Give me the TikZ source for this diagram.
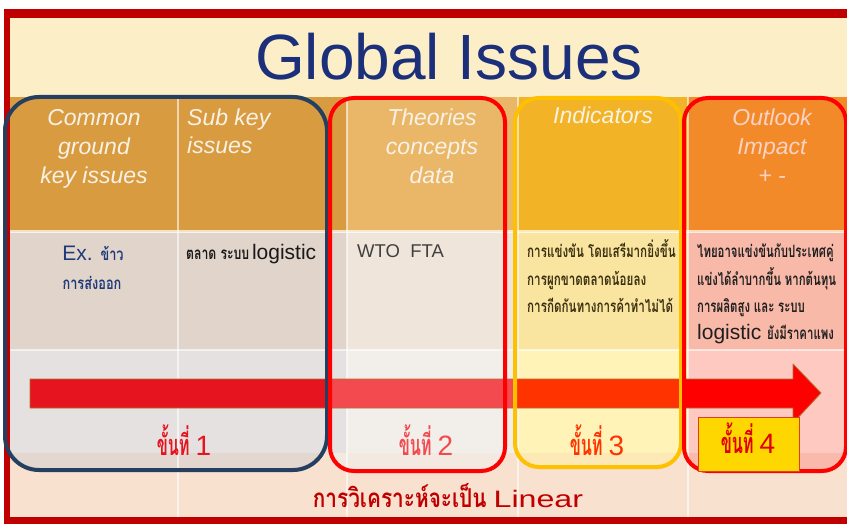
\documentclass[tikz,border=0pt]{standalone}
\usepackage{fontspec}
\usepackage{graphicx}
\setmainfont{Liberation Sans}
\newfontfamily\thai[Script=Thai]{Loma}
\newcommand\TC[2][0.72]{\scalebox{#1}[1]{\thai\bfseries #2}}
\definecolor{frame}{HTML}{C00000}
\definecolor{cream}{HTML}{FCEFC7}
\definecolor{hA}{HTML}{D99B40}
\definecolor{hB}{HTML}{E9B767}
\definecolor{hC}{HTML}{F2B426}
\definecolor{hD}{HTML}{F28A2A}
\definecolor{dA}{HTML}{E1D4CB}
\definecolor{dB}{HTML}{EFE5DA}
\definecolor{dC}{HTML}{FAE5A0}
\definecolor{dD}{HTML}{F8B9A8}
\definecolor{eA}{HTML}{E5E1E1}
\definecolor{eB}{HTML}{F2EFEA}
\definecolor{eC}{HTML}{FFF3B8}
\definecolor{eD}{HTML}{FDC9C1}
\definecolor{fA}{HTML}{E3D7CF}
\definecolor{fB}{HTML}{F4E9E0}
\definecolor{fC}{HTML}{FCE9B6}
\definecolor{fD}{HTML}{F9BAAB}
\definecolor{peach}{HTML}{F9E1D0}
\definecolor{navybox}{HTML}{243F60}
\definecolor{yelbox}{HTML}{FFC000}
\definecolor{titleblue}{HTML}{1C2F7A}
\definecolor{headw}{HTML}{F8F2E6}
\definecolor{headp}{HTML}{FCD2C4}
\definecolor{olive}{HTML}{3A3010}
\definecolor{exblue}{HTML}{1F3A7A}
\definecolor{arA}{HTML}{E5141E}
\definecolor{arB}{HTML}{F24A4E}
\definecolor{arC}{HTML}{FF3300}
\definecolor{arD}{HTML}{FF0000}
\definecolor{arEdge}{HTML}{B07030}
\definecolor{gold}{HTML}{FFD700}
\definecolor{goldEdge}{HTML}{E04020}
\definecolor{stepred}{HTML}{E00000}
\tikzset{
  headtxt/.style={text=headw,font=\fontsize{23}{23}\selectfont\itshape,inner sep=0pt},
  headpink/.style={headtxt,text=headp},
  celltxt/.style={inner sep=0pt,anchor=base west},
  steptxt/.style={inner sep=0pt,anchor=base},
  outline/.style={line width=4pt,rounded corners=24pt},
}
\newcommand\steplabel[1]{\scalebox{0.56}[1]{\fontsize{29}{29}\selectfont\thai\bfseries ขั้นที่}\hspace{6pt}{\fontsize{28}{28}\selectfont #1}}
\begin{document}
\begin{tikzpicture}[x=1pt,y=-1pt]
\useasboundingbox (0,0) rectangle (847,524);
\fill[white] (0,0) rectangle (847,524);
% frame
\fill[frame] (4,9) rectangle (860,524);
\fill[cream] (10,18) rectangle (860,97);
% header row
\fill[hA] (10,97) rectangle (347,232);
\fill[hB] (347,97) rectangle (518,232);
\fill[hC] (518,97) rectangle (688,232);
\fill[hD] (688,97) rectangle (860,232);
% data row
\fill[dA] (10,232) rectangle (347,350);
\fill[dB] (347,232) rectangle (518,350);
\fill[dC] (518,232) rectangle (688,350);
\fill[dD] (688,232) rectangle (860,350);
% arrow row
\fill[eA] (10,350) rectangle (347,453);
\fill[eB] (347,350) rectangle (518,453);
\fill[eC] (518,350) rectangle (688,453);
\fill[eD] (688,350) rectangle (860,453);
% bottom row
\fill[peach] (10,453) rectangle (860,517);
\begin{scope}
\clip (0,453) rectangle (860,517);
\fill[fA,rounded corners=34pt] (5,97) rectangle (327,470);
\fill[fB,rounded corners=24pt] (330,98) rectangle (505,471);
\fill[fC,rounded corners=24pt] (515,98) rectangle (681,467);
\fill[fD,rounded corners=24pt] (684,98) rectangle (846,471);
\end{scope}
% grid lines
\draw[white,opacity=0.7,line width=3pt] (10,232) -- (860,232);
\draw[white,opacity=0.6,line width=1.2pt] (10,350) -- (860,350);
\foreach \xx in {178,347,518,688}
  \draw[white,opacity=0.6,line width=1.5pt] (\xx,97) -- (\xx,517);
% title
\node[text=titleblue,inner sep=0pt,anchor=base,font=\fontsize{64}{64}\selectfont] (title) at (449,80) {Global Issues};
% headers
\node[headtxt,anchor=base] (h1a) at (94,126) {Common};
\node[headtxt,anchor=base] (h1b) at (94,155) {ground};
\node[headtxt,anchor=base] (h1c) at (94,184) {key issues};
\node[headtxt,anchor=base west] (h2a) at (187,126) {Sub key};
\node[headtxt,anchor=base west] (h2b) at (187,154) {issues};
\node[headtxt,anchor=base] (h3a) at (432,126) {Theories};
\node[headtxt,anchor=base] (h3b) at (432,155) {concepts};
\node[headtxt,anchor=base] (h3c) at (432,184) {data};
\node[headtxt,anchor=base] (h4a) at (603,124) {Indicators};
\node[headpink,anchor=base] (h5a) at (772,126) {Outlook};
\node[headpink,anchor=base] (h5b) at (772,155) {Impact};
\node[headpink,anchor=base] (h5c) at (772,184) {+ -};
% data cells
\node[steptxt,text=exblue] (c1a) at (93,261) {\fontsize{21}{21}\selectfont Ex. \TC[0.75]{\fontsize{17}{17}\selectfont ข้าว}};
\node[steptxt,text=exblue] (c1b) at (92,290) {\TC[0.75]{\fontsize{17}{17}\selectfont การส่งออก}};
\node[celltxt,text=black!90] (c2a) at (186,259) {\TC[0.72]{\fontsize{17}{17}\selectfont ตลาด ระบบ} \fontsize{21}{21}\selectfont logistic};
\node[celltxt,text=black!75] (c3a) at (357,258) {\fontsize{18.5}{18.5}\selectfont WTO\ \ FTA};
\node[celltxt,text=olive] (c4a) at (527,258) {\TC[0.685]{\fontsize{17}{17}\selectfont การแข่งขัน โดยเสรีมากยิ่งขึ้น}};
\node[celltxt,text=olive] (c4b) at (527,285) {\TC[0.685]{\fontsize{17}{17}\selectfont การผูกขาดตลาดน้อยลง}};
\node[celltxt,text=olive] (c4c) at (527,312) {\TC[0.685]{\fontsize{17}{17}\selectfont การกีดกันทางการค้าทำไม่ได้}};
\node[celltxt,text=black!88] (c5a) at (697,258) {\TC[0.67]{\fontsize{17}{17}\selectfont ไทยอาจแข่งขันกับประเทศคู่}};
\node[celltxt,text=black!88] (c5b) at (697,285) {\TC[0.67]{\fontsize{17}{17}\selectfont แข่งได้ลำบากขึ้น หากต้นทุน}};
\node[celltxt,text=black!88] (c5c) at (697,312) {\TC[0.67]{\fontsize{17}{17}\selectfont การผลิตสูง และ ระบบ}};
\node[celltxt,text=black!88] (c5d) at (697,339) {\fontsize{21}{21}\selectfont logistic \TC[0.67]{\fontsize{17}{17}\selectfont ยังมีราคาแพง}};
% arrow
\begin{scope}
\clip (30,379) -- (793,379) -- (793,364) -- (821,393) -- (793,423) -- (793,408) -- (30,408) -- cycle;
\fill[arA] (0,350) rectangle (328,440);
\fill[arB] (328,350) rectangle (513,440);
\fill[arC] (513,350) rectangle (681,440);
\fill[arD] (681,350) rectangle (860,440);
\end{scope}
\draw[arEdge,line width=0.8pt,line join=round] (30,379) -- (793,379) -- (793,364) -- (821,393) -- (793,423) -- (793,408) -- (30,408) -- cycle;
% rounded outlines
\draw[outline,navybox,rounded corners=34pt] (5,97) rectangle (327,470);
\draw[outline,red] (330,98) rectangle (505,471);
\draw[outline,yelbox] (515,98) rectangle (681,467);
\draw[outline,red] (684,98) rectangle (846,471);
% step 4 box
\node[fill=gold,draw=goldEdge,line width=0.6pt,minimum width=101pt,minimum height=54pt,inner sep=0pt] (s4box) at (748.5,444) {};
% step labels
\node[steptxt,text=arA] (s1) at (184,455) {\steplabel{1}};
\node[steptxt,text=arB] (s2) at (426,455) {\steplabel{2}};
\node[steptxt,text=arC] (s3) at (597,455) {\steplabel{3}};
\node[steptxt,text=stepred] (s4) at (748,453) {\steplabel{4}};
% bottom caption
\node[steptxt,text=frame] (cap) at (448,507) {\TC[0.8]{\fontsize{26}{26}\selectfont การวิเคราะห์จะเป็น}\hspace{7pt}\scalebox{1.15}[0.85]{\fontsize{28}{28}\selectfont Linear}};
\end{tikzpicture}
\end{document}
